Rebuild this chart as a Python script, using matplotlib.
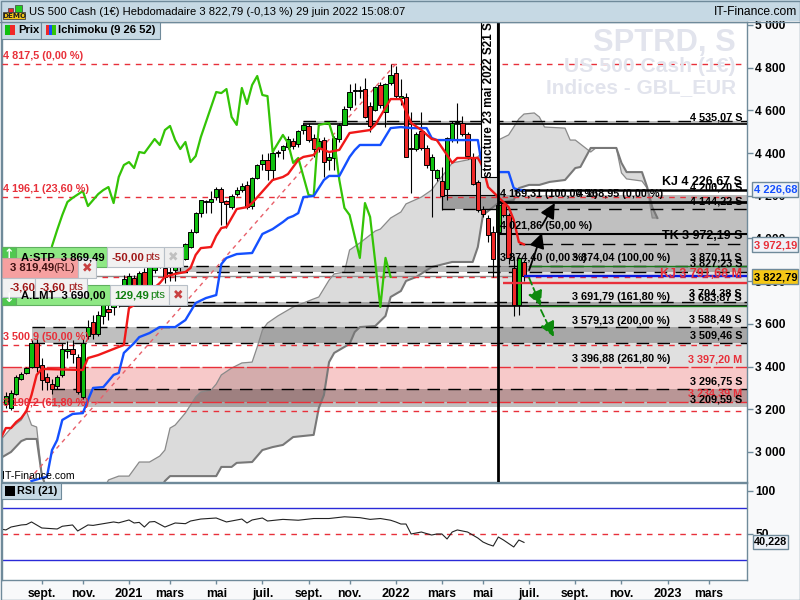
import numpy as np
import matplotlib
matplotlib.use('Agg')
import matplotlib.pyplot as plt
from matplotlib.patches import Rectangle

plt.rcParams['font.family'] = ['Liberation Sans', 'DejaVu Sans']

# weekly candles, last one is week of 27 june 2022 (index 0)
opens = [3225,3206,3272,3342,3370,3398,3510,3407,3351,3318,3309,3360,3475,3482,3445,3257,3543,3610,3553,3637,
         3670,3679,3712,3760,3773,3815,3773,3843,3782,3852,3880,3862,3838,3852,3870,3904,3960,4030,4119,4170,
         4171,4194,4232,4175,4147,4208,4227,4250,4152,4283,4350,4368,4321,4405,4414,4428,4456,4443,4508,4527,
         4470,4424,4461,4368,4377,4466,4532,4616,4691,4690,4700,4621,4602,4719,4592,4728,4775,4660,4663,4420,
         4419,4503,4424,4321,4283,4269,4232,4461,4541,4541,4489,4377,4265,4138,4096,4030,4030,4166,4110,3862,
         3688,3890]
highs = [3281,3290,3361,3375,3398,3525,3530,3440,3370,3340,3360,3510,3520,3525,3460,3530,3620,3640,3660,3715,
         3690,3735,3775,3830,3840,3830,3850,3860,3880,3930,3920,3900,3870,3890,3930,3980,4045,4125,4182,4180,
         4222,4240,4240,4180,4210,4240,4260,4270,4290,4350,4396,4400,4415,4415,4440,4480,4470,4510,4540,4540,
         4490,4470,4475,4400,4480,4540,4620,4724,4730,4715,4750,4640,4715,4735,4730,4815,4810,4747,4680,4592,
         4500,4592,4440,4395,4325,4335,4475,4550,4635,4575,4500,4400,4275,4150,4110,4060,4165,4175,4120,3920,
         3915,3900]
lows = [3206,3196,3267,3337,3365,3393,3375,3290,3290,3270,3295,3350,3440,3417,3270,3250,3530,3530,3545,3600,
        3620,3640,3680,3750,3765,3770,3765,3770,3770,3840,3860,3790,3800,3800,3850,3900,3955,4025,4100,4120,
        4120,4180,4063,4050,4140,4200,4220,4140,4138,4280,4321,4275,4274,4380,4370,4420,4420,4430,4490,4450,
        4380,4405,4290,4320,4320,4450,4530,4600,4625,4660,4565,4500,4595,4610,4520,4720,4660,4625,4380,4213,
        4410,4415,4330,4100,4270,4133,4180,4450,4447,4480,4370,4250,4125,4100,3985,3820,4020,4100,3880,3637,
        3640,3800]
closes = [3262,3276,3351,3365,3393,3510,3398,3337,3328,3295,3351,3482,3480,3459,3281,3510,3585,3553,3641,3688,
          3656,3712,3760,3810,3824,3782,3838,3782,3866,3890,3908,3820,3840,3866,3900,3974,4030,4119,4180,4171,
          4185,4232,4171,4161,4199,4227,4246,4147,4283,4344,4368,4321,4400,4400,4433,4466,4433,4503,4532,4461,
          4419,4456,4358,4382,4470,4532,4606,4686,4695,4697,4569,4527,4709,4625,4724,4766,4667,4665,4382,4424,
          4489,4424,4344,4382,4321,4199,4471,4541,4543,4489,4386,4255,4133,4115,4016,3904,4157,4110,3909,3688,
          3909,3823]

tenkan_x = [-102,-101,-100,-99,-98,-97,-96,-95,-94,-86,-85,-83,-81,-79,-78,-77,-76,-71,-70,-68,-66,-65,-64,-63,-61,
            -60,-59,-58,-56,-54,-53,-49,-47,-46,-44,-43,-41,-40,-38,-36,-34,-30,-29,-26,-24,-22,-20,-18,-17,-15,
            -14,-13,-9,-8,-7,-5,-3,-2,-1,0]
tenkan = [3065,3112,3112,3140,3159,3192,3267,3361,3389,3384,3440,3454,3473,3492,3501,3674,3688,3791,3820,3834,3843,3862,3923,3955,3960,
          4012,4049,4054,4138,4147,4166,4274,4288,4302,4368,4382,4391,4424,4405,4415,4494,4508,4532,4653,4653,4541,4508,4466,4461,4391,
          4354,4377,4377,4335,4241,4194,4147,4087,3983,3972.19]

kijun_x = [-96,-94,-93,-92,-91,-90,-88,-86,-85,-84,-82,-80,-79,-78,-76,-75,-73,-72,-71,-68,-66,-64,-62,-60,-59,-58,-56,-53,-51,-49,
           -47,-46,-45,-44,-43,-41,-39,-38,-36,-34,-33,-32,-28,-26,-24,-22,-19,-18,-17,-9,-8,-3,-2,-1,0]
kijun = [2864,2878,2883,3009,3056,3150,3178,3182,3243,3300,3304,3361,3370,3464,3510,3538,3557,3571,3585,3585,3618,3698,3721,3735,3880,3909,3927,3932,4021,4044,
         4077,4096,4105,4119,4194,4199,4274,4293,4293,4382,4414,4438,4438,4517,4522,4517,4517,4471,4461,4461,4311,4311,4236,4227,4226.68]

chikou_x = [-92,-91,-90,-89,-88,-86,-85,-83,-82,-81,-80,-79,-78,-77,-76,-75,-74,-72,-71,-70,-69,-68,-67,-66,-65,-64,-63,-60,-59,-58,
            -57,-56,-55,-54,-53,-52,-51,-50,-49,-47,-46,-45,-44,-42,-41,-40,-38,-37,-36,-35,-34,-32,-31,-30,-28,-27,-26]
chikou = [3965,4040,4110,4171,4190,4222,4152,4208,4227,4241,4166,4288,4344,4358,4330,4405,4400,4466,4438,4508,4527,4461,4419,4452,4358,4386,4475,4686,4681,4700,
          4569,4532,4705,4630,4719,4761,4672,4667,4405,4485,4447,4354,4377,4204,4199,4532,4541,4461,4274,4143,4110,3909,4166,4101,3679,3909,3820]

# cloud, two separate stretches
cloud1_x = [-102,-100,-98,-97,-96,-95,-94,-93]
cloud1_a = [3056,3112,3150,3192,3126,3117,2892,2822]
cloud1_b = [2972,3000,3051,3061,3061,3061,2892,2822]

span_a_x = [-82,-81,-79,-77,-75,-73,-71,-70,-69,-68,-66,-64,-63,-61,-60,-59,-57,-55,-53,-52,-51,-50,-48,-45,-41,-40,-38,-37,-35,-34,
            -32,-29,-28,-26,-24,-23,-20,-18,-17,-15,-14,-11,-9,-7,-3,-2,-1,0,2,3,4,8,9,10,13,14,18,19,20,23,24,25,26]
span_a = [2822,2869,2887,2887,2953,2953,2981,3009,3112,3126,3183,3258,3281,3290,3318,3361,3393,3417,3421,3492,3571,3604,3637,3679,3717,3726,3805,3834,3843,3946,
          3979,4035,4044,4096,4124,4162,4194,4227,4260,4321,4354,4368,4382,4438,4485,4522,4560,4583,4588,4569,4522,4517,4461,4461,4405,4424,4424,4307,4279,4269,4236,4096,4096]
span_b_x = [-82,-71,-70,-69,-60,-59,-57,-56,-53,-51,-49,-47,-45,-41,-40,-39,-38,-37,-34,-33,-32,-29,-27,-26,-24,-23,-21,-18,-14,-10,
            -9,-8,-5,-2,-1,1,3,5,8,10,11,13,18,19,20,23,24,25,26]
span_b = [2775,2822,2864,2887,2887,2930,2930,2949,2953,3009,3023,3033,3070,3080,3206,3267,3421,3464,3506,3562,3585,3590,3637,3726,3754,3801,3820,3866,3890,3890,
          3960,4110,4166,4180,4236,4251,4251,4265,4274,4330,4335,4424,4424,4354,4311,4311,4241,4147,4096]

# support/resistance bands: (first week, low, high, alpha)
band_start = [-43,-16,-5,-5,-68,-79,-96,-92]
band_low = [4535,4138,3866,3397,3843,3684,3510,3209]
band_high = [4550,4204,4138,4138,3871,3703,3585,3296]
band_alpha = [0.25,0.28,0.14,0.12,0.25,0.25,0.25,0.25]

fib_levels = [4817.5,4196.1,3819.49,3500.9,3190.2]
long_dash_levels = [3397.2,3234.39]
dash_start = [-43,-16,-1,-68,-68,-79,-96,-92,-96]
dash_levels = [4550,4138,3972,3871,3843,3703,3585,3296,3510]
solid_start = [-43,-2,-5,-5,-79]
solid_levels = [4535.07,4226.67,4169.31,4021.86,3684]
solid_width = [1.2,1.8,2.0,1.5,1.2]
last_price = 3822.79
kj_month = 3791.68

tick_weeks = [-94,-86,-77,-69,-60,-51,-42,-34,-25,-16,-8,1,10,19,28,36]
tick_labels = ['sept.','nov.','2021','mars','mai','juil.','sept.','nov.','2022','mars','mai','juil.','sept.','nov.','2023','mars']
price_ticks = [5000,4800,4600,4400,4200,4000,3800,3600,3400,3200,3000]
price_tick_labels = ['5 000','4 800','4 600','4 400','4 200','4 000','3 800','3 600','3 400','3 200','3 000']

rsi_x = [-102,-101,-100,-98,-97,-96,-94,-91,-90,-88,-87,-85,-84,-80,-79,-77,-76,-75,-74,-73,-72,-70,-68,-66,-65,-63,-60,-58,-55,-54,-53,-51,-50,
         -47,-44,-41,-38,-35,-32,-30,-28,-26,-25,-24,-23,-22,-21,-20,-19,-18,-17,-16,-15,-14,-13,-11,-9,-8,-7,-6,-5,-4,-2,-1,0]
rsi = [55.8,54.7,58.1,60.5,61,64,57,55.8,59,60.5,53.5,60.5,60,64,63,66.3,62.8,63.5,58.1,64,64.5,58.1,62.8,62,65.1,67.4,68.6,64,67.4,62.8,66.3,68.6,65.1,
       67,66,68,68,70,69,67,68,66,64,61.6,61.6,50,51.2,52.3,50.5,48.8,50,50,44.2,52.3,54.7,52.3,45.3,40.7,38,36,46.5,43,34.9,43,40.228]

STEP = 5.13  # pixels per week
xmin, xmax = (2 - 524) / STEP, (747 - 524) / STEP

fig = plt.figure(figsize=(8, 6), dpi=100, facecolor='#f8f9fa')
FRAME = '#6f8a9a'


def px_axes(left, top, right, bottom):
    return fig.add_axes([left / 800, 1 - bottom / 600, (right - left) / 800, (bottom - top) / 600])


ax = px_axes(2, 22, 747, 482)
ax2 = px_axes(2, 483, 747, 580)
ui = fig.add_axes([0, 0, 1, 1], zorder=10)
ui.set_xlim(0, 800)
ui.set_ylim(600, 0)
ui.axis('off')
ui.patch.set_alpha(0)

for a in (ax, ax2):
    a.set_xlim(xmin, xmax)
    for s in a.spines.values():
        s.set_color(FRAME)
        s.set_linewidth(1.0)
    a.yaxis.tick_right()
    a.tick_params(axis='y', colors=FRAME, length=4, width=1, labelcolor='black', labelsize=8.7, pad=2)
ax.set_ylim(2859.4, 5014)
ax2.set_ylim(-3.5, 109.3)
ax.set_xticks([])
ax.set_yticks(price_ticks, price_tick_labels, fontweight='bold')
ax2.set_yticks([100, 50], ['100', '50'], fontweight='bold')
ax2.set_xticks(tick_weeks, tick_labels, fontweight='bold')
ax2.tick_params(axis='x', colors=FRAME, length=3, width=1, labelcolor='black', labelsize=8.7, pad=3)
for lab, txt in zip(ax2.get_xticklabels(), tick_labels):
    if txt.startswith('20'):
        lab.set_fontsize(9.2)

# bands and levels
ax.fill_between([xmin, xmax], long_dash_levels[1], long_dash_levels[0], color='#e02020', alpha=0.24, lw=0, zorder=1)
for st, lo, hi, al in zip(band_start, band_low, band_high, band_alpha):
    ax.fill_between([st, xmax], lo, hi, color='black', alpha=al, lw=0, zorder=1)

# cloud
ax.fill(cloud1_x + cloud1_x[::-1], cloud1_a + cloud1_b[::-1], color='black', alpha=0.14, lw=0, zorder=2)
ax.fill(span_a_x + span_b_x[::-1], span_a + span_b[::-1], color='black', alpha=0.14, lw=0, zorder=2)
ax.plot(cloud1_x, cloud1_a, color='#8a8a8a', lw=0.9, zorder=2)
ax.plot(cloud1_x, cloud1_b, color='#787878', lw=1.5, zorder=2)
ax.plot(span_a_x, span_a, color='#8a8a8a', lw=0.9, zorder=2)
ax.plot(span_b_x, span_b, color='#787878', lw=1.5, zorder=2)

ax.hlines(last_price, xmin, 0, color='#909090', lw=1.0, zorder=2)
for st, lv in zip(dash_start, dash_levels):
    ax.hlines(lv, st, xmax, color='black', lw=1.0, linestyles=(0, (9, 6)), zorder=3)
for st, lv, w in zip(solid_start, solid_levels, solid_width):
    ax.hlines(lv, st, xmax, color='black', lw=w, zorder=3)
ax.vlines(-16, 4138, 4204, color='black', lw=0.8, zorder=3)
ax.hlines(4204, -16, -5, color='black', lw=0.8, zorder=3)
for lv in fib_levels:
    ax.axhline(lv, color='#e8303a', lw=1.0, ls=(0, (4, 4)), zorder=3)
for lv in long_dash_levels:
    ax.axhline(lv, color='#e8303a', lw=1.0, ls=(0, (14, 2)), zorder=3)
ax.hlines([3870.11, 3683.87], 1, xmax, color='#1a7a1a', lw=1.0, zorder=3)

# rising trendline
ax.plot([-96.5, -25], [2870, 4817.5], color='#e8606a', lw=1.0, ls=(0, (3, 3)), zorder=3)

# candles
weeks = np.arange(-101, 1)
o, h, l, c = map(np.array, (opens, highs, lows, closes))
up = c >= o
ax.vlines(weeks, l, h, color='black', lw=0.8, zorder=4)
ax.bar(weeks, np.maximum(np.abs(c - o), 6), bottom=np.minimum(o, c), width=0.84,
       color=np.where(up, '#10c010', '#f02828'), edgecolor='black', linewidth=0.7, zorder=4)

# ichimoku lines
ax.plot(chikou_x, chikou, color='#33c406', lw=1.6, zorder=5)
ax.plot(kijun_x, kijun, color='#1450ff', lw=1.7, zorder=5)
ax.plot(tenkan_x, tenkan, color='#f01818', lw=1.7, zorder=5)

ax.hlines(last_price, 0, xmax, color='#0a18e0', lw=1.7, zorder=6)
ax.hlines(kj_month, -4, xmax, color='#e8303a', lw=1.7, zorder=6)
ax.axvline(-5, color='black', lw=2.0, zorder=7)

# drawn arrows
black_head = dict(arrowstyle='-|>,head_width=0.45,head_length=0.9', color='black', lw=1.3, shrinkA=0, shrinkB=0)
green_head = dict(arrowstyle='-|>,head_width=0.45,head_length=0.9', color='#0d8a0d', lw=1.3, shrinkA=0, shrinkB=0, ls=(0, (4, 2)))
ax.annotate('', xy=(3.5, 4026), xytext=(1, 3852), arrowprops=black_head, zorder=8)
ax.annotate('', xy=(6, 4166), xytext=(3.5, 4060), arrowprops=black_head, zorder=8)
ax.annotate('', xy=(3.3, 3684), xytext=(1, 3815), arrowprops=green_head, zorder=8)
ax.annotate('', xy=(5.8, 3539), xytext=(3.3, 3665), arrowprops=green_head, zorder=8)

# rsi panel
ax2.axhline(80, color='#2a2ad8', lw=1.0)
ax2.axhline(20, color='#2a2ad8', lw=1.0)
ax2.axhline(50, color='#e8303a', lw=1.0, ls=(0, (4, 4)))
ax2.plot(rsi_x, rsi, color='#222222', lw=0.8)


def box(x0, y0, x1, y1, face, edge='#b8c0c8', lw=0.8, z=1):
    ui.add_patch(Rectangle((x0, y0), x1 - x0, y1 - y0, facecolor=face, edgecolor=edge, linewidth=lw, zorder=z))


def label(x, y, s, color='black', size=7.8, ha='left', weight='bold', z=3, **kw):
    ui.text(x, y, s, color=color, fontsize=size, ha=ha, va='center', fontweight=weight, zorder=z, **kw)


RED = '#e8303a'
# header
box(0, 0, 800, 21, '#c6d9e4', edge='none', lw=0)
ui.plot([0, 800], [21.5, 21.5], color=FRAME, lw=1)
label(29, 12, 'US 500 Cash (1€) Hebdomadaire 3 822,79 (-0,13 %) 29 juin 2022 15:08:07', size=8.1, weight='normal')
label(797, 12, 'IT-Finance.com', size=8.7, ha='right', weight='normal')
box(3, 12, 25, 19, '#f5c816', edge='#404040', lw=0.6)
label(14, 15.6, 'DEMO', size=5.2, color='#202020', ha='center', family=['DejaVu Sans'])
box(8, 8, 13, 12, '#f02828', edge='#404040', lw=0.5)
box(15, 5, 22, 12, '#20d020', edge='#404040', lw=0.5)

# tabs
box(1, 22, 41, 38.5, '#c6d9e4', edge=FRAME, lw=0.8)
box(41, 22, 160, 38.5, '#c6d9e4', edge=FRAME, lw=0.8)
box(5, 25, 10, 35, '#10c010', edge='none', lw=0)
box(10, 25, 15, 35, '#f02828', edge='none', lw=0)
label(18, 30, 'Prix', size=8.1)
box(46, 25, 49, 35, '#f02828', edge='none', lw=0)
box(49, 25, 52, 35, '#1450ff', edge='none', lw=0)
box(52, 25, 56, 35, '#33c406', edge='none', lw=0)
label(58, 30, 'Ichimoku (9 26 52)', size=8.1)
box(1, 483, 61, 499, '#c6d9e4', edge=FRAME, lw=0.8)
box(5, 486, 15, 496, 'black', edge='none', lw=0)
label(17, 491, 'RSI (21)', size=7.8)
label(2, 476, 'IT-Finance.com', size=7.6, weight='normal')

# frame round the whole window
ui.add_patch(Rectangle((0.5, 0.5), 799, 599, facecolor='none', edgecolor=FRAME, linewidth=1, zorder=9))

# watermark
wm = '#e2e4ed'
label(736, 43, 'SPTRD, S', color=wm, size=22.2, ha='right', z=0.5)
label(736, 66, 'US 500 Cash (1€)', color=wm, size=15.2, ha='right', z=0.5)
label(736, 88, 'Indices - GBL_EUR', color=wm, size=15, ha='right', z=0.5)

# retracement labels on the left
label(3, 56, '4 817,5 (0,00 %)', color=RED)
label(3, 189, '4 196,1 (23,60 %)', color=RED)
label(3, 337, '3 500,9 (50,00 %)', color=RED)
label(3, 403, '3 190,2 (61,80 %)', color=RED)

# labels of the levels on the right
right_labels = [(118, '4 535,07 S', 'black', 7.8), (182, 'KJ 4 226,67 S', 'black', 9), (187, '4 200,20 S', 'black', 7.8),
                (201, '4 144,22 S', 'black', 7.8), (236, 'TK 3 972,19 S', 'black', 9), (258, '3 870,11 S', 'black', 7.8),
                (264, '3 827,23 S', 'black', 7.8), (274, 'KJ 3 791,68 M', RED, 9), (293, '3 704,38 S', 'black', 7.8),
                (298, '3 683,87 S', 'black', 7.8), (319, '3 588,49 S', 'black', 7.8), (335, '3 509,46 S', 'black', 7.8),
                (359, '3 397,20 M', RED, 7.8), (381, '3 296,75 S', 'black', 7.8), (393, '3 234,39 M', RED, 7.8),
                (399, '3 209,59 S', 'black', 7.8)]
for y, s, col, size in right_labels:
    label(742, y, s, color=col, size=size, ha='right')

label(500, 194, '4 169,31 (100,00 %)')
label(663, 194, '4 168,95 (0,00 %)', ha='right')
label(500, 226, '4 021,86 (50,00 %)')
label(500, 258, '3 874,40 (0,00 %)')
label(670, 258, '3 874,04 (100,00 %)', ha='right')
label(670, 297, '3 691,79 (161,80 %)', ha='right')
label(670, 321, '3 579,13 (200,00 %)', ha='right')
label(670, 359, '3 396,88 (261,80 %)', ha='right')

# vertical structure label
box(481, 22, 497, 176.5, 'white', edge='black', lw=0.8)
ui.text(489.5, 99.5, 'structure 23 mai 2022 S21 S', rotation=90, ha='center', va='center', fontsize=8.4, fontweight='bold', zorder=3)

# order boxes
GREEN = '#8ee884'
DKRED = '#a01818'
DKGREEN = '#108010'
box(2, 247, 107, 267, GREEN, edge='#60b060')
box(2, 247, 16, 267, '#50c850', edge='#60b060')
label(9, 254, '↑', color='white', size=9, ha='center', family=['DejaVu Sans'])
label(21, 257, 'A:STP  3 869,49', size=8.1)
box(107, 247, 164, 267, '#f2f2f2')
label(112, 257, '-50,00', color=DKRED, size=8.2)
label(145, 257, 'pts', color=DKRED, size=8, weight='normal')
box(164, 247, 183, 267, '#eeeeee')
label(173.5, 257, '✖', color='#c0c0c0', size=9, ha='center', family=['DejaVu Sans'])
box(2, 285, 110, 305, GREEN, edge='#60b060')
box(2, 285, 16, 305, '#50c850', edge='#60b060')
label(9, 299, '↓', color='white', size=9, ha='center', family=['DejaVu Sans'])
label(21, 295, 'A.LMT  3 690,00', size=8.1)
box(110, 285, 169, 305, '#f2f2f2')
label(114, 295, '129,49', color=DKGREEN, size=8.2)
label(150, 295, 'pts', color=DKGREEN, size=8, weight='normal')
box(169, 285, 187, 305, '#eeeeee')
label(178, 295, '✖', color='#c84040', size=9, ha='center', family=['DejaVu Sans'])
box(2, 258, 78, 278, '#f6a0a0', edge='#c8a0a0')
label(10, 268, '3 819,49', size=8.2, color='#401010')
label(53, 268, '(RL)', size=8, color='#401010', weight='normal')
box(78, 258, 96, 278, '#eeeeee')
label(87, 268, '✖', color='#c84040', size=9, ha='center', family=['DejaVu Sans'])
box(2, 278, 35, 297, '#f2f2f2')
label(10, 287, '-3,60', color=DKRED, size=8.2)
box(35, 278, 87, 297, '#f2f2f2')
label(40, 287, '-3,60', color=DKRED, size=8.2)
label(68, 287, 'pts', color=DKRED, size=8, weight='normal')

# last value tags on the axes
box(752, 182, 798, 197, '#eef2f8', edge=FRAME, lw=1)
label(754, 190, '4 226,68', color='#1450ff', size=8.0)
box(752, 237, 798, 252, '#eef2f8', edge=FRAME, lw=1)
label(754, 245, '3 972,19', color=RED, size=8.0)
box(752, 269, 798, 284, '#f5c816', edge=FRAME, lw=1)
label(754, 277, '3 822,79', size=8.0)
box(753, 535, 788, 549, '#eef2f8', edge=FRAME, lw=1)
label(770.5, 542, '40,228', size=7.8, ha='center')

fig.savefig('out.png', dpi=100, facecolor=fig.get_facecolor())
